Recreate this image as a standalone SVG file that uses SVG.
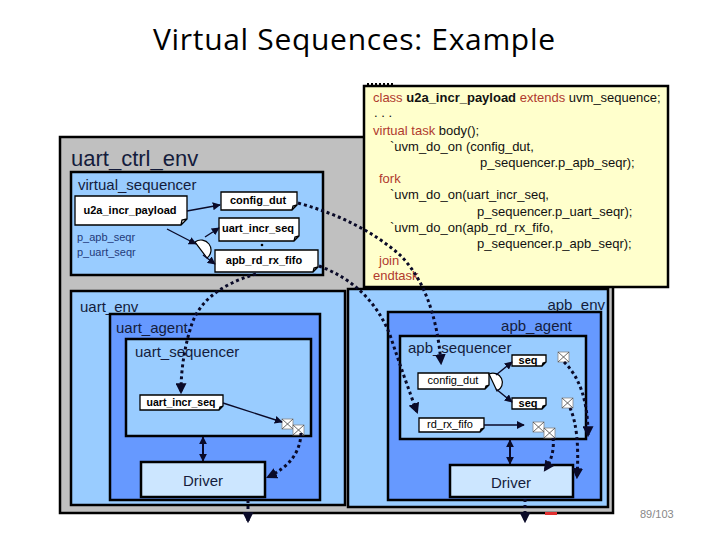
<svg xmlns="http://www.w3.org/2000/svg" xmlns:xlink="http://www.w3.org/1999/xlink" width="720" height="540" viewBox="0 0 720 540">
<style>
text{font-family:"Liberation Sans",Arial,sans-serif}
.box{stroke:#000;stroke-width:2.5}
.grey{fill:#c0c0c0}
.lb{fill:#99ccff}
.mb{fill:#6699ff}
.drv{fill:#cce6ff;stroke:#000;stroke-width:2.5}
.lbl{font-size:15px;fill:#141c3c}
.big{font-size:22px;fill:#141c3c}
.note{fill:#fff;stroke:#000;stroke-width:1.3}
.nt{font-size:11px;font-weight:bold;fill:#000;text-anchor:middle}
.ntn{font-size:11px;fill:#000;text-anchor:middle}
.code{font-size:13px;fill:#111}
.kw{fill:#b03a2e}
.dot{fill:none;stroke:#0a0a28;stroke-width:3;stroke-dasharray:3 3}
.ln{fill:none;stroke:#0a0a28;stroke-width:1.4}
.fork{fill:#fff;stroke:#000;stroke-width:1.2}
</style>
<defs>
<marker id="ah" viewBox="0 0 10 10" refX="9" refY="5" markerWidth="8" markerHeight="8" markerUnits="userSpaceOnUse" orient="auto-start-reverse"><path d="M0,0 L10,5 L0,10 z" fill="#0a0a28"/></marker>
<marker id="ahd" viewBox="0 0 10 10" refX="8" refY="5" markerWidth="11" markerHeight="11" markerUnits="userSpaceOnUse" orient="auto"><path d="M0,0 L10,5 L0,10 z" fill="#0a0a28"/></marker>
<g id="env"><rect x="0" y="0" width="11" height="10" fill="#fff" stroke="#888" stroke-width="0.8"/><path d="M0,0 L11,10 M11,0 L0,10" stroke="#444" stroke-width="0.8"/></g>
</defs>
<rect width="720" height="540" fill="#fff"/>
<text x="153" y="50" font-size="30" textLength="402" style="font-family:'Open Sans','Liberation Sans',sans-serif;fill:#000">Virtual Sequences: Example</text>

<g id="uart_ctrl_env">
<rect class="box grey" x="60" y="137" width="553" height="376"/>
<text class="big" x="71" y="166">uart_ctrl_env</text>
</g>

<g id="virtual_sequencer">
<rect class="box lb" x="71" y="172" width="252" height="103"/>
<text class="lbl" x="78" y="190">virtual_sequencer</text>
<text x="77" y="241" font-size="11" fill="#1f3a7a">p_apb_seqr</text>
<text x="77" y="256" font-size="11" fill="#1f3a7a">p_uart_seqr</text>
</g>
<g id="u2a_incr_payload">
<path class="note" d="M75,196 H187 V219 L181,225 H75 Z M181,225 L182,220 L187,219"/>
<text class="nt" x="130" y="214">u2a_incr_payload</text>
</g>
<g id="v_config_dut">
<path class="note" d="M221,192 H297 V205 L292,210 H221 Z M292,210 L293,206 L297,205"/>
<text class="nt" x="258" y="204">config_dut</text>
</g>
<g id="v_uart_incr_seq">
<path class="note" d="M219,218 H299 V236 L294,241 H219 Z M294,241 L295,237 L299,236"/>
<text class="nt" x="258" y="232">uart_incr_seq</text>
</g>
<g id="v_apb_rd_rx_fifo">
<path class="note" d="M215,250 H318 V267 L313,272 H215 Z M313,272 L314,268 L318,267"/>
<text class="nt" x="264" y="264">apb_rd_rx_fifo</text>
</g>
<g id="v_fork">
<path class="fork" d="M195,242 A10 10 0 0 1 207,258 Z"/>
<circle cx="262" cy="245" r="1.3" fill="#000"/>
</g>

<g id="uart_env">
<rect class="box lb" x="71" y="291" width="274" height="214"/>
<text class="lbl" x="80" y="312">uart_env</text>
</g>
<g id="uart_agent">
<rect class="box mb" x="110" y="314" width="210" height="186"/>
<text class="lbl" x="116" y="333">uart_agent</text>
</g>
<g id="uart_sequencer">
<rect class="box lb" x="126" y="339" width="185" height="97"/>
<text class="lbl" x="135" y="357">uart_sequencer</text>
</g>
<g id="uart_incr_seq">
<path class="note" d="M140,395 H223 V406 L219,410 H140 Z M219,410 L220,407 L223,406"/>
<text class="nt" x="181" y="406" style="font-size:10.5px">uart_incr_seq</text>
</g>
<g id="uart_items">
<use xlink:href="#env" x="282" y="419"/>
<use xlink:href="#env" x="293" y="425"/>
</g>
<g id="uart_driver">
<rect class="drv" x="141" y="462" width="124" height="35"/>
<text class="lbl" x="203" y="486" text-anchor="middle">Driver</text>
</g>

<g id="apb_env">
<rect class="box lb" x="348" y="289" width="260" height="218"/>
<text class="lbl" x="605" y="310" text-anchor="end">apb_env</text>
</g>
<g id="apb_agent">
<rect class="box mb" x="388" y="312" width="213" height="188"/>
<text class="lbl" x="572" y="331" text-anchor="end">apb_agent</text>
</g>
<g id="apb_sequencer">
<rect class="box lb" x="400" y="336" width="186" height="103"/>
<text class="lbl" x="408" y="353">apb_sequencer</text>
</g>
<g id="apb_config_dut">
<path class="note" d="M418,373 H489 V385 L485,389 H418 Z M485,389 L486,386 L489,385"/>
<text class="ntn" x="453" y="384">config_dut</text>
</g>
<g id="seq1">
<path class="note" d="M512,355 H546 V362 L542,366 H512 Z M542,366 L543,363 L546,362"/>
<text class="nt" x="528" y="364">seq</text>
</g>
<g id="seq2">
<path class="note" d="M512,398 H546 V405 L542,409 H512 Z M542,409 L543,406 L546,405"/>
<text class="nt" x="528" y="407">seq</text>
</g>
<g id="rd_rx_fifo">
<path class="note" d="M419,418 H484 V428 L480,432 H419 Z M480,432 L481,429 L484,428"/>
<text class="ntn" x="450" y="428">rd_rx_fifo</text>
</g>
<g id="apb_fork">
<path class="fork" d="M489,374 A9 9 0 0 1 497,391 Z"/>
</g>
<g id="apb_items">
<use xlink:href="#env" x="558" y="352"/>
<use xlink:href="#env" x="562" y="398"/>
<use xlink:href="#env" x="533" y="422"/>
<use xlink:href="#env" x="544" y="428"/>
</g>
<g id="apb_driver">
<rect class="drv" x="450" y="465" width="123" height="32"/>
<text class="lbl" x="511" y="488" text-anchor="middle">Driver</text>
</g>

<g id="code_box">
<rect x="364" y="86" width="304" height="201" fill="#ffffcc" stroke="#000" stroke-width="2.5"/>
<line x1="367" y1="84" x2="393" y2="84" stroke="#000" stroke-width="2" stroke-dasharray="2 2"/>
<g class="code">
<text class="code" x="373" y="102"><tspan class="kw">class </tspan><tspan font-weight="bold">u2a_incr_payload</tspan><tspan class="kw"> extends </tspan>uvm_sequence;</text>
<text class="code" x="374" y="117">. . .</text>
<text class="code" x="373" y="135"><tspan class="kw">virtual task</tspan> body();</text>
<text class="code" x="390" y="151">`uvm_do_on (config_dut,</text>
<text class="code" x="480" y="167">p_sequencer.p_apb_seqr);</text>
<text class="code kw" x="379" y="183">fork</text>
<text class="code" x="390" y="199">`uvm_do_on(uart_incr_seq,</text>
<text class="code" x="477" y="216">p_sequencer.p_uart_seqr);</text>
<text class="code" x="390" y="232">`uvm_do_on(apb_rd_rx_fifo,</text>
<text class="code" x="477" y="248">p_sequencer.p_apb_seqr);</text>
<text class="code kw" x="379" y="265">join</text>
<text class="code kw" x="373" y="280">endtask</text>
</g>
</g>

<g id="connectors">
<line class="ln" x1="187" y1="211" x2="220" y2="205" marker-end="url(#ah)"/>
<line class="ln" x1="167" y1="229" x2="196" y2="244" marker-end="url(#ah)"/>
<line class="ln" x1="205" y1="237" x2="219" y2="228" marker-end="url(#ah)"/>
<line class="ln" x1="203" y1="255" x2="215" y2="264" marker-end="url(#ah)"/>
<line class="ln" x1="223" y1="403" x2="282" y2="422" marker-end="url(#ah)"/>
<line class="ln" x1="203" y1="437" x2="203" y2="461" marker-start="url(#ah)" marker-end="url(#ah)" style="stroke-width:2"/>
<line class="ln" x1="496" y1="375" x2="512" y2="362" marker-end="url(#ah)"/>
<line class="ln" x1="496" y1="389" x2="512" y2="402" marker-end="url(#ah)"/>
<line class="ln" x1="484" y1="425" x2="524" y2="425" marker-end="url(#ah)"/>
<line class="ln" x1="510" y1="440" x2="510" y2="464" marker-start="url(#ah)" marker-end="url(#ah)" style="stroke-width:2"/>
<path class="dot" d="M298,203 Q360,220 400,255 Q435,290 441,363" marker-end="url(#ahd)"/>
<path class="dot" d="M319,266 Q370,285 390,335 Q405,380 417,412" marker-end="url(#ahd)"/>
<path class="dot" d="M256,274 Q200,290 190,330 Q181,360 181,392" marker-end="url(#ahd)"/>
<path class="dot" d="M301,433 Q300,462 268,477" marker-end="url(#ahd)"/>
<path class="dot" d="M248,500 L248,521" marker-end="url(#ahd)"/>
<path class="dot" d="M564,362 Q588,385 588,435" marker-end="url(#ahd)"/>
<path class="dot" d="M570,408 Q580,430 577,477" marker-end="url(#ahd)"/>
<path class="dot" d="M553,438 Q555,455 545,470" marker-end="url(#ahd)"/>
<path class="dot" d="M525,499 L525,521" marker-end="url(#ahd)"/>
</g>
<rect x="545" y="512" width="12" height="3" fill="#e03030"/>
<text x="640" y="518" font-size="11" fill="#888">89/103</text>
</svg>
